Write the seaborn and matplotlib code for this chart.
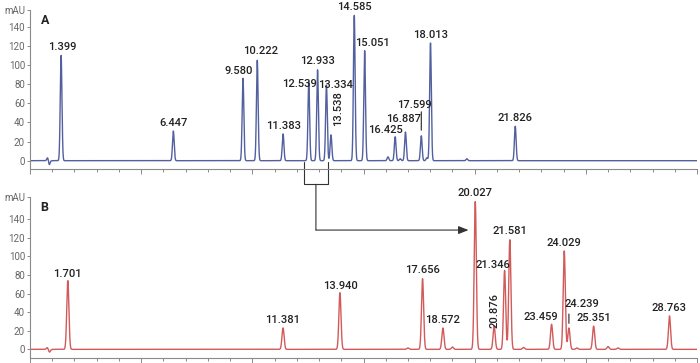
import numpy as np
import pandas as pd
import matplotlib
matplotlib.use("Agg")
import matplotlib.pyplot as plt
import seaborn as sns
from matplotlib.patches import ConnectionPatch

# ---------------- data ----------------
# Panel A: retention time (min) and peak height (mAU)
peaks_a_time = [1.399, 6.447, 9.580, 10.222, 11.383, 12.539, 12.933, 13.334, 13.538,
                14.585, 15.051, 16.425, 16.887, 17.599, 18.013, 21.826]
peaks_a_height = [110, 31, 86, 105, 28, 82, 95, 79, 27,
                  152, 115, 25, 30, 26, 123, 36]
# minor unlabelled features in panel A (injection blip, small bumps)
minor_a_time = [0.80, 0.86, 16.10, 16.65, 17.85, 19.65]
minor_a_height = [4, -5, 4, 2, 3, 2]

# Panel B
peaks_b_time = [1.701, 11.381, 13.940, 17.656, 18.572, 20.027, 20.876, 21.346, 21.581,
                23.459, 24.029, 24.239, 25.351, 28.763]
peaks_b_height = [74, 23, 61, 76, 23, 159, 25, 85, 118,
                  27, 106, 23, 25, 36]
minor_b_time = [0.80, 0.86, 17.00, 19.00, 22.20, 24.60, 26.00, 26.45]
minor_b_height = [3, -4, 1.5, 2.5, 2, 1.5, 3, 1.5]

y_ticks = [0, 20, 40, 60, 80, 100, 120, 140]

# ---------------- build traces ----------------
t = np.linspace(0, 30, 9001)


def trace(times, heights, mtimes, mheights, sigma):
    y = np.zeros_like(t)
    for c, h in zip(list(times) + list(mtimes), list(heights) + list(mheights)):
        y += h * np.exp(-0.5 * ((t - c) / sigma) ** 2)
    return y


df_a = pd.DataFrame({"time": t, "mAU": trace(peaks_a_time, peaks_a_height,
                                              minor_a_time, minor_a_height, 0.038)})
df_b = pd.DataFrame({"time": t, "mAU": trace(peaks_b_time, peaks_b_height,
                                              minor_b_time, minor_b_height, 0.048)})

# ---------------- figure ----------------
sns.set_theme(style="white")
plt.rcParams["font.family"] = ["Roboto", "DejaVu Sans"]

W, H = 700, 363
fig = plt.figure(figsize=(7, 3.63), dpi=100)
axA = fig.add_axes([30 / W, 1 - 169.3 / H, 667 / W, (169.3 - 10) / H])
axB = fig.add_axes([30 / W, 1 - 357.7 / H, 667 / W, (357.7 - 197) / H])

col_a = "#52609f"
col_b = "#d25a5a"
sns.lineplot(data=df_a, x="time", y="mAU", ax=axA, color=col_a, lw=1.0)
sns.lineplot(data=df_b, x="time", y="mAU", ax=axB, color=col_b, lw=1.0)

PX = 0.72  # points per pixel


def style_axis(ax, ytop, panel):
    ax.set_xlim(0, 30)
    ax.set_ylim(-9, ytop)
    ax.set_xlabel("")
    ax.set_ylabel("")
    for s in ["top", "right"]:
        ax.spines[s].set_visible(False)
    for s in ["left", "bottom"]:
        ax.spines[s].set_color("#8a8a8a")
        ax.spines[s].set_linewidth(0.8)
    ax.set_xticks(np.arange(0, 31, 5))
    ax.set_xticks(np.arange(0, 31, 1), minor=True)
    ax.set_xticklabels([])
    ax.tick_params(axis="x", which="major", direction="out", length=4.5 * PX,
                   width=0.7, color="#8a8a8a", bottom=True)
    ax.tick_params(axis="x", which="minor", direction="out", length=3 * PX,
                   width=0.7, color="#8a8a8a", bottom=True)
    ax.set_yticks(y_ticks + [ytop])
    ax.set_yticklabels([str(v) for v in y_ticks] + ["mAU"])
    ax.tick_params(axis="y", direction="out", length=3 * PX, width=0.7,
                   color="#8a8a8a", labelcolor="#666666", labelsize=7, pad=1.5,
                   left=True)
    ax.text(0.016, 0.935, panel, transform=ax.transAxes, fontsize=9,
            fontweight="bold", color="#222222", ha="left", va="center")
    ax.patch.set_alpha(0)


style_axis(axA, 157.5, "A")
style_axis(axB, 164, "B")

# label offsets in pixels (dx, up) relative to the peak apex; default (0, 8)
offs_a = {"9.580": (-4.7, 7.7), "10.222": (3.3, 9.5), "12.539": (-9.5, -1.5),
          "13.334": (9.5, 0), "15.051": (7.4, 7.3), "16.425": (-10, 6.8),
          "16.887": (-1.6, 13), "17.599": (-7, 30.8), "1.399": (1, 8.3)}
offs_b = {"1.701": (0, 6.5), "21.346": (-12, 5.7), "23.459": (-10.7, 7.3),
          "24.239": (12.7, 24.4), "13.940": (1, 7)}
rot_a = {"13.538": (6.7, 26.6)}
rot_b = {"20.876": (0, 16)}


def label_peaks(ax, times, heights, offs, rots):
    for tt, hh in zip(times, heights):
        lab = f"{tt:.3f}"
        if lab in rots:
            dx, up = rots[lab]
            rot = 90
        else:
            dx, up = offs.get(lab, (0, 8.3))
            rot = 0
        ax.annotate(lab, xy=(tt, hh), xytext=(dx * PX, up * PX),
                    textcoords="offset points", ha="center", va="center",
                    rotation=rot, fontsize=8, fontweight="medium",
                    color="#222222", annotation_clip=False)


label_peaks(axA, peaks_a_time, peaks_a_height, offs_a, rot_a)
label_peaks(axB, peaks_b_time, peaks_b_height, offs_b, rot_b)

# small leader ticks for crowded labels
axA.annotate("", xy=(17.599, 26 + 3), xytext=(17.599, 26 + 28),
             arrowprops=dict(arrowstyle="-", color="#222222", lw=0.8),
             annotation_clip=False)
axB.annotate("", xy=(24.239, 23 + 2), xytext=(24.239, 23 + 18),
             arrowprops=dict(arrowstyle="-", color="#222222", lw=0.8),
             annotation_clip=False)

# bracket under panel A and arrow into panel B
br_l, br_r, br_c = 12.33, 13.39, 12.86
kw = dict(color="#333333", lw=0.8, clip_on=False)
axA.plot([br_l, br_l, br_r, br_r], [-1, -24.7, -24.7, -1], **kw)
con = ConnectionPatch(xyA=(br_c, -24.7), coordsA=axA.transData,
                      xyB=(br_c, 128.4), coordsB=axB.transData,
                      color="#333333", lw=0.8)
fig.add_artist(con)
axB.annotate("", xy=(19.72, 128.4), xytext=(br_c, 128.4),
             arrowprops=dict(arrowstyle="-|>,head_length=0.5,head_width=0.2",
                             color="#333333", lw=0.8, shrinkA=0, shrinkB=0),
             annotation_clip=False)

fig.savefig("out.png", dpi=100)
